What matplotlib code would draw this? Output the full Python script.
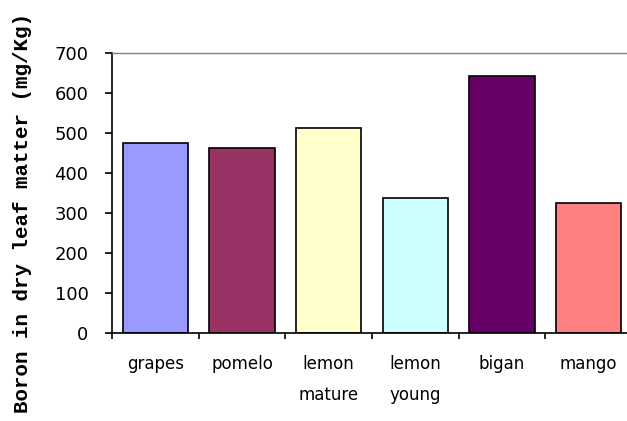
import matplotlib
matplotlib.use("Agg")
import matplotlib.pyplot as plt
import numpy as np

# Boron content per crop
crops = ["grapes", "pomelo", "lemon\nmature", "lemon\nyoung", "bigan", "mango"]
boron = [475, 462, 512, 337, 643, 325]
colors = ["#9999FF", "#993366", "#FFFFCC", "#CCFFFF", "#660066", "#FF8080"]
yticks = [0, 100, 200, 300, 400, 500, 600, 700]

fig = plt.figure(figsize=(6.27, 4.21), dpi=100)
ax = fig.add_axes([112 / 627, 1 - 333 / 421, 520 / 627, 280 / 421])

x = np.arange(len(crops))
ax.bar(x, boron, width=0.75, color=colors, edgecolor="black", linewidth=1.2)

ax.set_xlim(-0.5, len(crops) - 0.5)
ax.set_ylim(0, 700)
ax.set_yticks(yticks)
ax.set_yticklabels([str(v) for v in yticks], fontsize=13)
ax.tick_params(axis="y", direction="out", length=5, width=1.2, pad=12)

# ticks between categories, labels centred under bars
ax.set_xticks(np.arange(len(crops) + 1) - 0.5)
ax.set_xticklabels([])
ax.tick_params(axis="x", which="major", direction="out", length=4, width=1.2)
ax.set_xticks(x, minor=True)
ax.set_xticklabels(crops, minor=True, fontsize=12, linespacing=1.9)
ax.tick_params(axis="x", which="minor", length=0, pad=16)

ax.spines["right"].set_visible(False)
ax.spines["top"].set_color("#808080")
ax.spines["top"].set_linewidth(1)
ax.spines["left"].set_linewidth(1.2)
ax.spines["bottom"].set_linewidth(1.2)

fig.text(23 / 627, 1 - 213 / 421, "Boron in dry leaf matter (mg/Kg)",
         rotation=90, ha="center", va="center",
         family="Liberation Mono", fontweight="bold", fontsize=15)

fig.savefig("out.png", dpi=100, facecolor="white")
